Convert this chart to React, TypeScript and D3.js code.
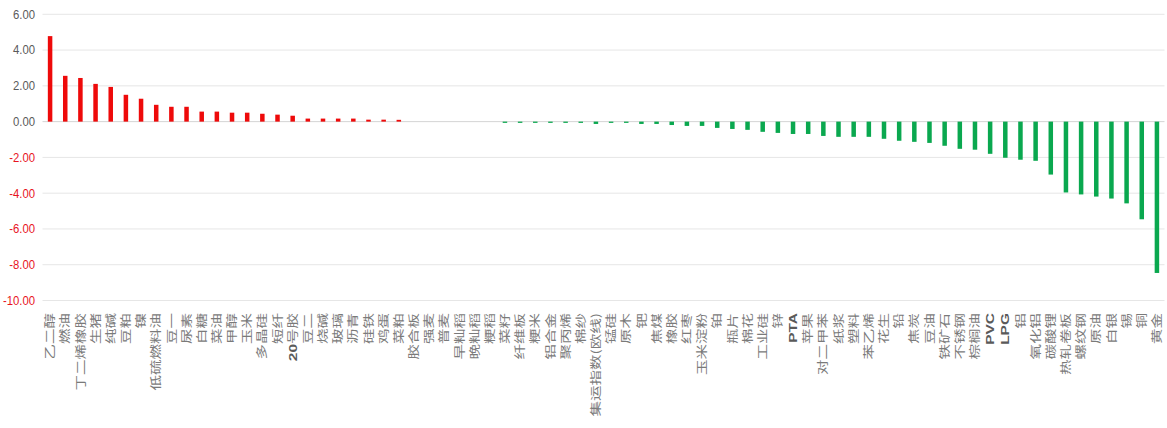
import * as d3 from "d3";
import React from "react";

// 品种（按涨跌幅排序）
const categories = [
  "乙二醇", "燃油", "丁二烯橡胶", "生猪", "纯碱", "豆粕", "镍", "低硫燃料油", "豆一", "尿素",
  "白糖", "菜油", "甲醇", "玉米", "多晶硅", "短纤", "20号胶", "豆二", "烧碱", "玻璃",
  "沥青", "硅铁", "鸡蛋", "菜粕", "胶合板", "强麦", "普麦", "早籼稻", "晚籼稻", "粳稻",
  "菜籽", "纤维板", "粳米", "铝合金", "聚丙烯", "棉纱", "集运指数(欧线)", "锰硅", "原木", "钯",
  "焦煤", "橡胶", "红枣", "玉米淀粉", "铂", "瓶片", "棉花", "工业硅", "锌", "PTA",
  "苹果", "对二甲苯", "纸浆", "塑料", "苯乙烯", "花生", "铅", "焦炭", "豆油", "铁矿石",
  "不锈钢", "棕榈油", "PVC", "LPG", "铝", "氧化铝", "碳酸锂", "热轧卷板", "螺纹钢", "原油",
  "白银", "锡", "铜", "黄金",
];

// 涨跌幅 (%)
const changes = [
  4.78, 2.56, 2.44, 2.11, 1.94, 1.5, 1.28, 0.94, 0.83, 0.83,
  0.56, 0.56, 0.5, 0.5, 0.44, 0.39, 0.33, 0.17, 0.17, 0.17,
  0.17, 0.11, 0.11, 0.1, 0, 0, 0, 0, 0, 0,
  -0.07, -0.07, -0.07, -0.07, -0.07, -0.07, -0.13, -0.07, -0.07, -0.13,
  -0.13, -0.19, -0.24, -0.24, -0.35, -0.41, -0.46, -0.57, -0.63, -0.69,
  -0.69, -0.8, -0.85, -0.85, -0.85, -0.96, -1.07, -1.13, -1.19, -1.35,
  -1.52, -1.57, -1.8, -2.02, -2.13, -2.19, -2.96, -3.96, -4.07, -4.19,
  -4.3, -4.57, -5.46, -8.46,
];

const yTicks = [6, 4, 2, 0, -2, -4, -6, -8, -10];

const width = 1167;
const height = 428;
const plot = { left: 42.5, right: 1164.5, top: 14.3, bottom: 300.5 };

const upColor = "#ee0a0a";
const downColor = "#0aa84f";

// 英文/数字部分单独加粗
function labelParts(s: string) {
  return s.split(/([A-Za-z0-9]+)/).filter((p) => p.length > 0);
}

export default function App() {
  const x = d3
    .scaleBand<string>()
    .domain(categories)
    .range([plot.left, plot.right]);
  const y = d3.scaleLinear().domain([-10, 6]).range([plot.bottom, plot.top]);
  const barW = 4.5;

  return (
    <svg
      width={width}
      height={height}
      style={{ position: "fixed", left: 0, top: 0, background: "#fff" }}
    >
      {yTicks.map((t) => (
        <g key={t}>
          <line
            x1={plot.left}
            x2={plot.right}
            y1={y(t)}
            y2={y(t)}
            stroke={t === 0 ? "#d4d4d4" : "#e6e6e6"}
            strokeWidth={1}
          />
          <text
            transform={`translate(35,${y(t)}) scale(0.84,1)`}
            textAnchor="end"
            dominantBaseline="central"
            fontFamily="'Liberation Sans', Arial, sans-serif"
            fontSize={13.5}
            fill={t < 0 ? "#e8141e" : "#5a5a5a"}
          >
            {t.toFixed(2)}
          </text>
        </g>
      ))}
      {categories.map((c, i) => {
        const v = changes[i];
        const cx = (x(c) ?? 0) + x.bandwidth() / 2;
        if (v === 0) return null;
        return (
          <rect
            key={c}
            x={cx - barW / 2}
            width={barW}
            y={Math.min(y(v), y(0))}
            height={Math.abs(y(v) - y(0))}
            fill={v > 0 ? upColor : downColor}
          />
        );
      })}
      {categories.map((c) => {
        const cx = (x(c) ?? 0) + x.bandwidth() / 2;
        return (
          <text
            key={"l" + c}
            transform={`translate(${cx},313) scale(0.74,1) rotate(-90)`}
            textAnchor="end"
            fontFamily="'Noto Sans CJK SC', sans-serif"
            fontSize={15.5}
            fill="#7a7a7a"
          >
            {labelParts(c).map((p, j) =>
              /^[A-Za-z0-9]+$/.test(p) ? (
                <tspan
                  key={j}
                  dy="0.36em"
                  fontWeight="bold"
                  fontFamily="'Liberation Sans', Arial, sans-serif"
                  fill="#5a5a5a"
                >
                  {p}
                </tspan>
              ) : (
                <tspan key={j} dy={j === 0 ? "0.36em" : 0}>
                  {p}
                </tspan>
              )
            )}
          </text>
        );
      })}
    </svg>
  );
}
